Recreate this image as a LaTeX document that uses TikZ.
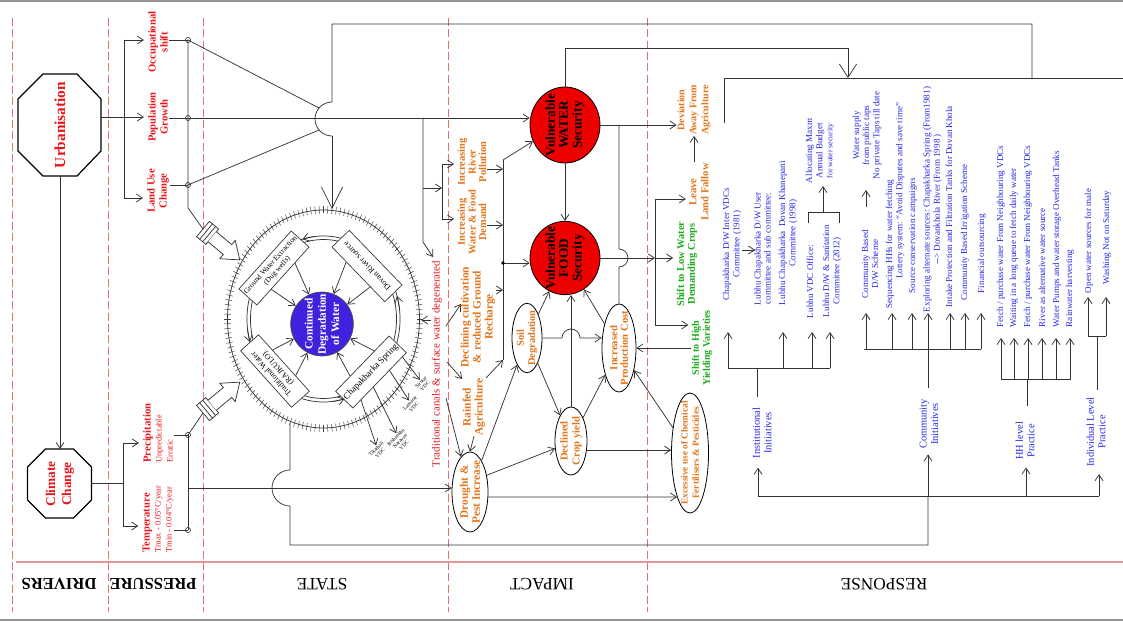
\documentclass[tikz,border=0pt]{standalone}
\usepackage{fontspec}
\setmainfont{Liberation Serif}
\usetikzlibrary{arrows.meta,shapes.geometric,calc}
\definecolor{tred}{RGB}{232,22,28}
\definecolor{torg}{RGB}{226,118,28}
\definecolor{tgrn}{RGB}{28,172,28}
\definecolor{tblu}{RGB}{40,40,228}
\definecolor{ballc}{RGB}{62,34,222}
\definecolor{secred}{RGB}{238,0,0}
\definecolor{guidec}{RGB}{226,112,112}
\definecolor{basec}{RGB}{226,150,150}
\definecolor{framec}{RGB}{150,150,150}
\newcommand{\fsz}[2]{\fontsize{#1}{#2}\selectfont}
\tikzset{
  ln/.style={draw=black!80, line width=0.55pt},
  ar/.style={ln, -{Straight Barb[length=4.5pt,width=6pt]}},
  bigar/.style={ln, -{Straight Barb[length=10pt,width=13pt]}},
  hugear/.style={ln, -{Straight Barb[length=16pt,width=16pt]}},
  dotn/.style={circle, draw=black!80, line width=0.5pt, inner sep=0pt, minimum size=3.8pt},
  guide/.style={draw=guidec, line width=0.6pt, dash pattern=on 6pt off 2.5pt},
  rlab/.style={rotate=90, align=center, inner sep=0.5pt, text=tred, font=\bfseries\fsz{8}{9}},
  olab/.style={rotate=90, align=center, inner sep=0.5pt, text=torg, font=\bfseries\fsz{7.8}{8}},
  glab/.style={rotate=90, align=center, inner sep=0.5pt, text=tgrn, font=\bfseries\fsz{7.8}{8.2}},
  blab/.style={rotate=90, anchor=west, align=center, inner sep=0.5pt, text=tblu, font=\fsz{6.8}{7.6}},
  bhead/.style={rotate=90, align=center, inner sep=0.5pt, text=tblu, font=\fsz{7.8}{8.6}},
  ell/.style={ellipse, draw=black, line width=0.6pt, inner sep=0pt},
  secn/.style={ell, fill=secred},
  sectxt/.style={rotate=90, align=center, inner sep=0pt, font=\bfseries\fsz{10}{10}},
  etext/.style={rotate=90, align=center, inner sep=0pt, text=torg, font=\bfseries\fsz{8}{9}},
  stbox/.style={draw=black!80, line width=0.5pt, fill=white, inner sep=1pt, align=center, minimum width=57pt, minimum height=18pt},
  vdc/.style={rotate=45, align=center, inner sep=0.2pt, font=\fsz{3.9}{4.3}},
  sect/.style={font=\fsz{13}{14}, rotate=180},
}
\begin{document}
\begin{tikzpicture}[x=0.75pt,y=-0.75pt]
\useasboundingbox (0,0) rectangle (1123,623);
\fill[white] (0,0) rectangle (1123,623);
% ---------- frame and guides
\foreach \gx in {12,108,203,448,647} {\draw[guide] (\gx,18) -- (\gx,612);}
\draw[draw=basec, line width=0.8pt] (16,562) -- (1123,562);
\draw[draw=framec, line width=1.4pt] (0,1) -- (1123,1);
\draw[draw=framec, line width=1.4pt] (0,620) -- (1123,620);
\node[sect, font=\bfseries\fsz{12.5}{14}] (sD) at (59,584) {DRIVERS};
\node[sect, font=\bfseries\fsz{12.5}{14}] (sP) at (153,584) {PRESSURE};
\node[sect] (sS) at (322,584) {STATE};
\node[sect] (sI) at (542,584) {IMPACT};
\node[sect] (sR) at (884,584) {RESPONSE};

% ---------- drivers
\draw[line width=0.9pt] (43,74) -- (77,74) -- (101,99) -- (101,151) -- (77,176) -- (43,176) -- (18,151) -- (18,99) -- cycle;
\node[rotate=90, text=tred, font=\bfseries\fsz{11.5}{13}] (urb) at (60,125) {Urbanisation};
\coordinate (urbR) at (101,117);
\coordinate (urbB) at (60,176);
\draw[line width=0.9pt] (45.5,449) -- (73.5,449) -- (91.5,467) -- (91.5,500) -- (73.5,518) -- (45.5,518) -- (27.5,500) -- (27.5,467) -- cycle;
\node[rotate=90, align=center, text=tred, font=\bfseries\fsz{10}{12}] (cc) at (60,484) {Climate\\Change};
\coordinate (ccT) at (60,449);
\coordinate (ccR) at (91.5,483);
\draw[ar] (urbB) -- (ccT);

% ---------- pressure
\node[rlab] (occ) at (158,42) {Occupational\\shift};
\node[rlab] (pop) at (158,117) {Population\\Growth};
\node[rlab] (luc) at (158,191) {Land Use\\Change};
\coordinate (bu1) at (124,40);
\coordinate (bu2) at (124,117);
\coordinate (bu3) at (124,198);
\draw[ln] (urbR) -- (bu2);
\draw[ln] (bu1) -- (bu3);
\draw[ar, shorten >=2.5pt] (bu1) -- (bu1 -| occ.north);
\draw[ar, shorten >=2.5pt] (bu2) -- (bu2 -| pop.north);
\draw[ar, shorten >=2.5pt] (bu3) -- (bu3 -| luc.north);
\node[dotn] (dOcc) at (188,40) {};
\node[dotn] (dPop) at (188,118) {};
\node[dotn] (dLuc) at (188,185) {};
\draw[ln] (dOcc -| occ.south) -- (dOcc.center);
\draw[ln] (dPop -| pop.south) -- (dPop.center);
\draw[ln] (dLuc -| luc.south) -- (dLuc.center);
\coordinate (vU1) at (188,208);
\coordinate (vU2) at (203,229);
\draw[ln] (dOcc.center) -- (vU1) -- (vU2);

\node[rotate=90, align=left, text=tred, inner sep=0.5pt, font=\fsz{6.3}{8.3}] (prec) at (158,433) {{\bfseries\fsz{8}{8.3}Precipitation}\\Unpredictable\\Erratic};
\node[rotate=90, align=left, text=tred, inner sep=0.5pt, font=\fsz{6.3}{8.3}] (temp) at (158,519) {{\bfseries\fsz{8}{8.3}Temperature}\\Tmax - 0.05°C/year\\Tmin - 0.04°C/year};
\coordinate (bc0) at (123,483);
\coordinate (bc1) at (123,443);
\coordinate (bc2) at (123,526);
\draw[ln] (ccR) -- (bc0);
\draw[ln] (bc1) -- (bc2);
\draw[ar, shorten >=2.5pt] (bc1) -- (bc1 -| prec.north);
\draw[ar, shorten >=2.5pt] (bc2) -- (bc2 -| temp.north);
\node[dotn] (dPrec) at (188,435) {};
\node[dotn] (dTemp) at (188,530) {};
\draw[ln] (dPrec -| prec.south) -- (dPrec.center);
\draw[ln] (dTemp -| temp.south) -- (dTemp.center);
\draw[ln] (dPrec.center) -- (dTemp.center);
\coordinate (vL2) at (203,413);
\draw[ln] (dPrec.center) -- (vL2);

% ---------- state: ring
\coordinate (C) at (323.5,319);
\draw[ln] (C) ellipse [x radius=72pt, y radius=81.75pt];
\foreach \a in {0,2.5,...,357.5} {\draw[line width=0.35pt, black!75] ({323.5+93*cos(\a)},{319-105.5*sin(\a)}) -- ({323.5+99.5*cos(\a)},{319-113*sin(\a)});}
\draw[ln] (C) ellipse [x radius=57.4pt, y radius=62.25pt];
\draw[ln] (C) ellipse [x radius=54.75pt, y radius=59.6pt];
\foreach \s in {96,186,276,6} {\draw[ar] ({323.5+76.5*cos(\s)},{319-83*sin(\s)}) arc[start angle=\s, end angle=\s+10, x radius=57.4pt, y radius=62.25pt];}
\node[stbox, rotate=48, font=\fsz{5.6}{6.6}] (bxA) at (274,268) {Ground Water Extraction\\(Dug wells)};
\node[stbox, rotate=134, font=\fsz{6}{7}] (bxB) at (367,266) {Dovan River source};
\node[stbox, rotate=132, font=\fsz{6}{7}] (bxC) at (275,371) {Traditional Water\\(RAJKULO)};
\node[stbox, rotate=46, font=\fsz{6.8}{7.5}] (bxD) at (371,372) {Chapakharka Spring};
\node[ellipse, fill=ballc, draw=black!70, line width=0.5pt, minimum width=47pt, minimum height=48pt, inner sep=0pt] (ball) at (322,324) {};
\node[rotate=90, align=center, text=white, font=\bfseries\fsz{8.5}{10}] (ballT) at (ball) {Continued\\Degradation\\of Water};
\draw[ar] ($(bxA.south)!0.45!(bxA.south west)$) -- (ball);
\draw[ar] ($(bxA.south)!0.45!(bxA.south east)$) -- (ball);
\draw[ar] ($(bxB.north)!0.45!(bxB.north west)$) -- (ball);
\draw[ar] ($(bxB.north)!0.45!(bxB.north east)$) -- (ball);
\draw[ar] ($(bxC.south)!0.45!(bxC.south west)$) -- (ball);
\draw[ar] ($(bxC.south)!0.45!(bxC.south east)$) -- (ball);
\draw[ar] ($(bxD.north)!0.45!(bxD.north west)$) -- (ball);
\draw[ar] ($(bxD.north)!0.45!(bxD.north east)$) -- (ball);
\node[vdc] (vd1) at (378,451) {Tikathali\\VDC};
\node[vdc] (vd2) at (400,441) {Bishankhu\\Narayan\\VDC};
\node[vdc] (vd3) at (412,405) {Lamatar\\VDC};
\node[vdc] (vd4) at (423,384) {Sirutar\\VDC};
\draw[ar] ($(bxD.south west)!0.15!(bxD.south east)$) -- (vd1);
\draw[ar] ($(bxD.south west)!0.38!(bxD.south east)$) -- (vd2);
\draw[ar] ($(bxD.south west)!0.68!(bxD.south east)$) -- (vd3);
\draw[ar] ($(bxD.south west)!0.92!(bxD.south east)$) -- (vd4);
% valves
\begin{scope}[shift={(203,229)}, rotate=-40]
  \draw[ln, fill=white] (0,-10) rectangle (12,10);
  \draw[ln] (4,-10) -- (4,10) (8,-10) -- (8,10);
  \draw[ln, fill=white] (12,-6.5) -- (32,-6.5) -- (32,-12) -- (48,0) -- (32,12) -- (32,6.5) -- (12,6.5);
\end{scope}
\begin{scope}[shift={(203,413)}, rotate=40]
  \draw[ln, fill=white] (0,-10) rectangle (12,10);
  \draw[ln] (4,-10) -- (4,10) (8,-10) -- (8,10);
  \draw[ln, fill=white] (12,-6.5) -- (32,-6.5) -- (32,-12) -- (48,0) -- (32,12) -- (32,6.5) -- (12,6.5);
\end{scope}

% ---------- feedback line into state
\coordinate (fbT) at (332,24);
\coordinate (fbR) at (1032,24);
\coordinate (fbR2) at (1032,78);
\coordinate (jA) at (332,102);
\coordinate (jB) at (332,136);
\coordinate (jUp) at (319,108);
\coordinate (jLo) at (319,130);
\coordinate (ringTop) at (332,209);
\draw[ln] (dOcc.center) -- (jUp);
\draw[ln] (dLuc.center) -- (jLo);
\draw[ln] (fbR2) -- (fbR) -- (fbT) -- (jA) arc[start angle=90, end angle=270, radius=12.75pt] -- (jB);
\draw[hugear] (jB) -- (ringTop);

% ---------- impact: security nodes
\node[secn, minimum width=52.5pt, minimum height=57pt] (water) at (565,125) {};
\node[sectxt] (waterT) at (water) {Vulnerable\\WATER\\Security};
\node[secn, minimum width=52.5pt, minimum height=55pt] (food) at (565,258) {};
\node[sectxt] (foodT) at (food) {Vulnerable\\FOOD\\Security};
\draw[ar] (dPop.center) -- (dPop -| water.west);
\draw[ar] (water.south) -- (food.north);

% population branch
\coordinate (p423) at (423,118);
\coordinate (p423b) at (423,242);
\coordinate (p423c) at (433,257);
\coordinate (p423m) at (423,188);
\coordinate (bk1) at (442,188);
\coordinate (bk2) at (442,164);
\coordinate (bk3) at (442,219);
\draw[ar] (p423) -- (p423b) -- (p423c);
\draw[ar] (p423m) -- (bk1);
\draw[ln] (bk2) -- (bk3);
\node[olab] (irp) at (472,162) {Increasing\\River\\Pollution};
\node[olab] (iwf) at (472,222) {Increasing\\Water \& Food\\Demand};
\node[olab, font=\bfseries\fsz{8.5}{9}] (dcl) at (478,317) {Declining cultivation\\\& reduced Ground\\Recharge};
\node[olab, font=\bfseries\fsz{8.5}{9}] (rfa) at (474,407) {Rainfed\\Agriculture};
\draw[ar, shorten >=2pt] (bk2) -- (bk2 -| irp.north);
\draw[ar, shorten >=2pt] (bk3) -- (bk3 -| iwf.north);
% collector
\coordinate (cTop) at (503,160);
\coordinate (cBot) at (503,360);
\coordinate (cFood) at (503,263);
\coordinate (cI1) at (503,169);
\coordinate (cI2) at (503,225);
\coordinate (cI3) at (503,290);
\draw[ln] (cTop) -- (cBot);
\draw[ar] (cTop) -- (water.207);
\draw[ar] (cFood) -- (cFood -| food.west);
\fill (cFood) circle (1.4pt);
\draw[ar] (cI1 -| irp.south) -- (cI1);
\draw[ar] (cI2 -| iwf.south) -- (cI2);
\draw[ar] (cI3 -| dcl.south) -- (cI3);
\draw[ar] (rfa.south east) -- (cBot);

% traditional canals
\node[rotate=90, text=tred, font=\fsz{8.2}{9}, inner sep=0.5pt] (trad) at (437,364) {Traditional canals \& surface water degenerated};
\coordinate (tr0) at (431,320);
\coordinate (ringE) at (421,320);
\coordinate (tr1) at (446,326);
\coordinate (tDcl) at (461,304);
\coordinate (tr2) at (447,362);
\coordinate (tRfa) at (462,379);
\coordinate (tr3) at (446,398);
\draw[ar] (tr0) -- (ringE);
\draw[ar] (tr1) -- (tDcl);
\draw[ar] (tr2) -- (tRfa);

% impact ellipses
\node[ell, minimum width=27pt, minimum height=60pt] (drought) at (470,492) {};
\node[etext, font=\bfseries\fsz{8.5}{9}] (droughtT) at (drought) {Drought \&\\Pest Increase};
\node[ell, minimum width=22.5pt, minimum height=52pt] (soil) at (527,338) {};
\node[etext, font=\bfseries\fsz{7.8}{8.5}] (soilT) at (soil) {Soil\\Degradation};
\node[ell, minimum width=24pt, minimum height=51pt] (declined) at (571,441) {};
\node[etext] (declinedT) at (declined) {Declined\\Crop yield};
\node[ell, minimum width=25.5pt, minimum height=66pt] (ipc) at (619,348) {};
\node[etext, font=\bfseries\fsz{8}{8}] (ipcT) at (ipc) {Increased\\Production Cost};
\node[ell, minimum width=27.75pt, minimum height=90pt] (exc) at (690,453) {};
\node[etext, font=\bfseries\fsz{7}{8.3}] (excT) at (exc) {Excessive use of Chemical\\Fertilisers \& Pesticides};

\draw[ar] (tr3) -- (drought);
\draw[ar] (rfa.west) -- (drought.north);
\coordinate (cJ) at (188,488);
\draw[ar] (cJ) -- (cJ -| drought.west);
\draw[ar] (drought) -- (soil);
\draw[ar] (drought.45) -- (declined.205);
\coordinate (exE1) at (677,497);
\draw[ar] (drought.-15) -- (exE1);
\draw[ar] (declined.-30) -- (declined.-30 -| exc.west);
\draw[ar] (exc) -- (ipc);
\draw[ar] (soil) -- (declined);
\draw[ar] (declined) -- (ipc);
\draw[ar] (soil) -- (food);
\draw[ar] (ipc) -- (food);
\draw[ar] (declined.north) -- (declined.north |- food.south);
\coordinate (jS1) at (562,338);
\draw[ar] (soil.east) -- (jS1) arc[start angle=180, end angle=0, radius=6.75pt] -- (soil.east -| ipc.west);

% water right side
\node[olab, font=\bfseries\fsz{7.5}{9}] (dev) at (694,110) {Deviation\\Away From\\Agriculture};
\node[olab, font=\bfseries\fsz{8}{9}] (llf) at (699,192) {Leave\\Land Fallow};
\node[glab] (slw) at (687,264) {Shift to Low Water\\Demanding Crops};
\node[glab, font=\bfseries\fsz{7.5}{8.2}] (shy) at (702,348) {Shift to High\\Yielding Varieties};
\draw[ar] (water.east) -- (water.east -| dev.north);
\coordinate (wJ) at (619,125);
\coordinate (wJ2) at (619,249);
\draw[ln] (wJ) -- (wJ2) arc[start angle=90, end angle=-90, radius=6.75pt] -- (ipc.north);
\coordinate (fb1) at (655,199);
\coordinate (fb2) at (655,258);
\coordinate (fb3) at (655,325);
\draw[ar] (food.east) -- (fb2);
\draw[ln] (fb1) -- (fb3);
\draw[ar, shorten >=2pt] (fb1) -- (fb1 -| llf.north);
\draw[ar, shorten >=2pt] (fb2) -- (fb2 -| slw.north);
\draw[ar, shorten >=2pt] (fb3) -- (fb3 -| shy.north);
\draw[ar] (llf.east -| dev.west) -- (dev.west);
\draw[ar] (shy.north) -- (shy.north -| ipc.east);

% water to response
\coordinate (rT) at (848,48);
\coordinate (rA) at (848,78);
\draw[bigar] (water.north) -- (water.north |- rT) -- (rT) -- (rA);
\draw[ln] (724,123) -- (724,78) -- (1123,78);

% ---------- response
\coordinate (sB) at (290,423);
\coordinate (sB2) at (290,470);
\coordinate (sB3) at (290,545);
\coordinate (sB4) at (928,545);
\coordinate (bC) at (928,496);
\coordinate (bI) at (758,496);
\coordinate (bH) at (1026,496);
\coordinate (bV) at (1099,496);
\draw[ln] (sB) -- (sB2) arc[start angle=90, end angle=270, radius=13.5pt] -- (sB3) -- (sB4) -- (bC);
\draw[ln] (bI) -- (bV);
\node[bhead] (inst) at (762,433) {Institutional\\Initiatives};
\node[bhead] (comm) at (929,424) {Community\\Initiatives};
\node[bhead] (hh) at (1025,441) {HH level\\Practice};
\node[bhead] (indiv) at (1096,432) {Individual Level\\Practice};
\draw[ar, shorten >=6.5pt] (bI) -- (bI |- inst.west);
\draw[ar, shorten >=3.5pt] (bC) -- (bC |- comm.west);
\draw[ar, shorten >=5pt] (bH) -- (bH |- hh.west);
\draw[ar, shorten >=5pt] (bV) -- (bV |- indiv.west);
\draw[ln] (757,397) -- (757,368);
\draw[ln] (728,368) -- (830,368);
\foreach \ax in {728,783,812,830} {\draw[ar] (\ax,368) -- (\ax,332);}
\draw[ln] (928,388) -- (928,349);
\draw[ln] (864,349) -- (981,349);
\foreach \ax in {866,892,912,928,950,965,981} {\draw[ar] (\ax,349) -- (\ax,313);}
\draw[ln] (1027,406) -- (1027,379);
\draw[ln] (1001,379) -- (1071,379);
\foreach \ax in {1001,1014,1028,1042,1056,1070} {\draw[ar] (\ax,379) -- (\ax,338);}
\draw[ln] (1097,390) -- (1097,336);
\draw[ln] (1088,336) -- (1106,336);
\foreach \ax in {1088,1106} {\draw[ar] (\ax,336) -- (\ax,297);}

\node[blab] (i1) at (732,301) {Chapakharka D/W Inter VDCs\\Committee (1981)};
\node[blab] (i2) at (762.5,306) {Lubhu Chapakharka D/W User\\committee and sub committee:};
\node[blab] (i3) at (788,306) {Lubhu Chapakharka~~Dovan Khanepani\\Committee (1998)};
\node[blab] (i4) at (810,319) {Lubhu VDC Office:};
\node[blab] (i5) at (832,318) {Lubhu D/W \& Sanitation\\Committee (2012)};
\node[blab] (i6) at (820,184) {Allocating Maxm\\Annual Budget\\{\fsz{5.8}{7}for water security}};
\coordinate (a1) at (742,250);
\coordinate (a2) at (755,250);
\draw[ar] (a1) -- (a2);
\draw[ln] (808,223) -- (808,212) -- (839,212) -- (839,223);
\draw[ar] (823,212) -- (823,186);
\node[blab] (c1) at (870,299) {Community Based\\D/W Scheme};
\node[blab] (c0) at (867,180) {Water supply\\from public taps\\No private Taps till date};
\draw[ar] (866,207) -- (866,190);
\node[blab, align=left] (c2) at (895,309) {Sequencing HHs for water fetching\\\hspace*{22pt}Lottery system: ``Avoid Disputes and save time''};
\node[blab] (c3) at (913,294) {Source conservation campaigns};
\node[blab] (c4) at (932.5,313) {Exploring alternate sources: Chapakharka Spring (From1981)\\-{}-> Dovankhola River (From 1998 )};
\node[blab] (c5) at (949,308) {Intake Protection and Filtration Tanks for Dovan Khola};
\node[blab] (c6) at (965,301) {Community Based Irrigation Scheme};
\node[blab] (c7) at (982,294) {Financial outsourcing};
\node[blab] (h1) at (1001,328) {Fetch / purchase water From Neighbouring VDCs};
\node[blab] (h2) at (1014,328) {Waiting in a long queue to fetch daily water};
\node[blab] (h3) at (1028,328) {Fetch / purchase water From Neighbouring VDCs};
\node[blab] (h4) at (1042,328) {River as alternative water source};
\node[blab] (h5) at (1057,328) {Water Pumps and water storage Overhead Tanks};
\node[blab] (h6) at (1070,328) {Rainwater harvesting};
\node[blab] (v1) at (1089,294) {Open water sources for male};
\node[blab] (v2) at (1107,285) {Washing Not on Saturday};
\end{tikzpicture}
\end{document}
